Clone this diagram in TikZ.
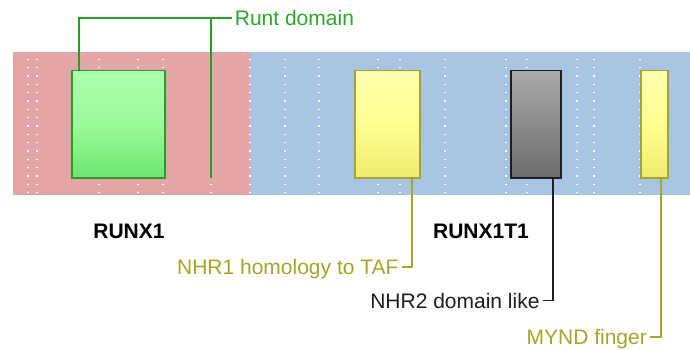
\documentclass[tikz,border=0pt]{standalone}
\usepackage{fontspec}
\setmainfont{Liberation Sans}
\definecolor{bgred}{RGB}{227,165,165}
\definecolor{bgblue}{RGB}{168,196,226}
\definecolor{gborder}{RGB}{40,155,40}
\definecolor{gtext}{RGB}{44,165,44}
\definecolor{olive}{RGB}{165,165,40}
\definecolor{dark}{RGB}{30,30,30}
\begin{document}
\begin{tikzpicture}[x=1pt,y=-1pt,
  dom/.style={inner sep=0pt, line width=1.8pt, minimum width=#1},
  greendom/.style={dom=#1, draw=gborder, top color={rgb,255:red,172;green,255;blue,172}, bottom color={rgb,255:red,110;green,228;blue,110}, middle color={rgb,255:red,155;green,250;blue,155}},
  yellowdom/.style={dom=#1, draw=olive, top color={rgb,255:red,255;green,255;blue,172}, bottom color={rgb,255:red,236;green,236;blue,110}, middle color={rgb,255:red,255;green,255;blue,145}},
  graydom/.style={dom=#1, draw=dark, top color={rgb,255:red,170;green,170;blue,170}, bottom color={rgb,255:red,108;green,108;blue,108}},
  lbl/.style={font=\fontsize{21}{25}\selectfont, inner xsep=3pt, inner ysep=0pt, text height=15pt, text depth=0pt},
  title/.style={font=\fontsize{21}{25}\selectfont\bfseries, inner sep=0pt},
  conn/.style={line width=1.8pt}]
\useasboundingbox (0,0) rectangle (690,350);
% backgrounds
\fill[bgred] (13,52.5) rectangle (250,195);
\fill[bgblue] (250,52.5) rectangle (690,195);
% dotted grid lines
\foreach \x in {28,37,99,138,163,211,250,285,319,378,400,445,506,527,577,594,640} {
  \foreach \k in {0,...,16} {
    \fill[white] ({\x-0.7},{59.3+\k*8.33-0.7}) rectangle ++(1.4,1.4);
  }
}
% domains
\node[greendom=93.3pt, minimum height=107.2pt] (runt) at (118.7,124.1) {};
\coordinate (smalltop) at (211,70.5);
\coordinate (smallbot) at (211,177.7);
\draw[gborder, line width=2.6pt] (smalltop) -- (smallbot);
\node[yellowdom=65pt, minimum height=107.2pt] (nhr1) at (387.5,124.1) {};
\node[graydom=50pt, minimum height=107.2pt] (nhr2) at (535.7,124.1) {};
\node[yellowdom=27.6pt, minimum height=107.2pt] (mynd) at (654.5,124.1) {};
% titles
\node[title] (t1) at (129,231.5) {RUNX1};
\node[title] (t2) at (481,231.5) {RUNX1T1};
% labels
\node[lbl, anchor=west, text=gtext] (runtlbl) at (231.7,17.7) {Runt domain};
\node[lbl, anchor=east, text=olive] (nhr1lbl) at (401.7,266.7) {NHR1 homology to TAF};
\node[lbl, anchor=east, text=dark] (nhr2lbl) at (542.7,300.5) {NHR2 domain like};
\node[lbl, anchor=east, text=olive] (myndlbl) at (650,337) {MYND finger};
% connectors
\coordinate (rtop) at (79,70.5);
\draw[conn, gborder] (rtop) |- (runtlbl.west);
\draw[conn, gborder] (smalltop) |- (runtlbl.west);
\draw[conn, olive] (nhr1lbl.east) -| (nhr1.south -| 412.3,0);
\draw[conn, dark] (nhr2lbl.east) -| (nhr2.south -| 552.7,0);
\draw[conn, olive] (myndlbl.east) -| (mynd.south -| 661,0);
\end{tikzpicture}
\end{document}
